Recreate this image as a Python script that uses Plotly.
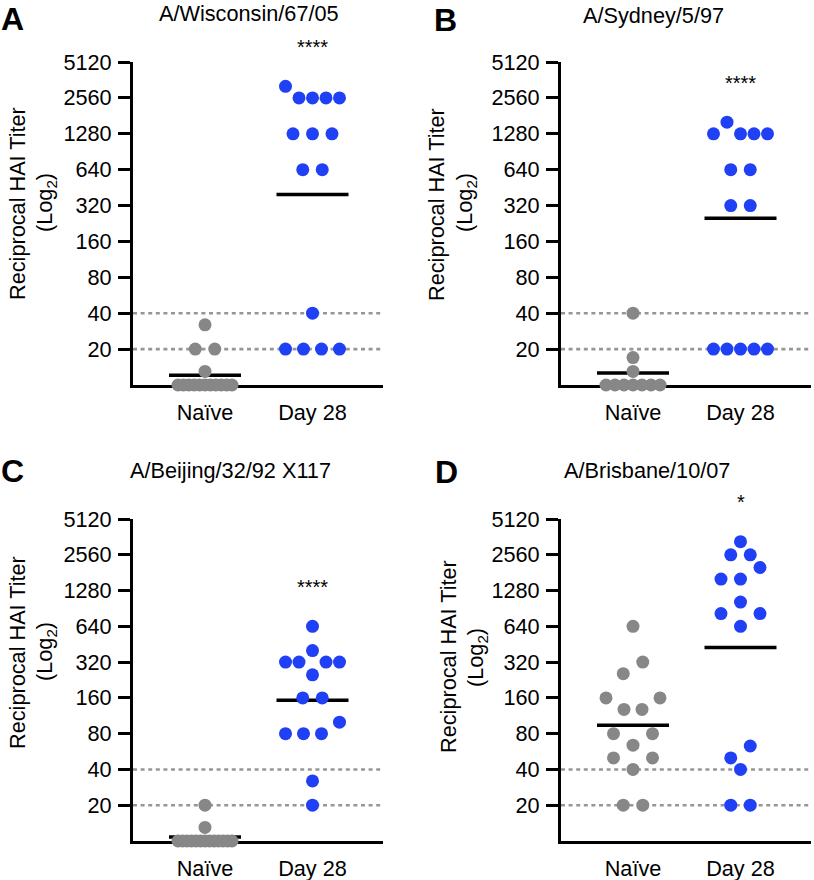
import numpy as np
import plotly.graph_objects as go

# ---------------- data ----------------
panel_letters = ["A", "B", "C", "D"]
strain_names = ["A/Wisconsin/67/05", "A/Sydney/5/97", "A/Beijing/32/92 X117", "A/Brisbane/10/07"]
group_labels = ["Naïve", "Day 28"]
significance_marks = ["****", "****", "****", "*"]
titer_ticks = [20, 40, 80, 160, 320, 640, 1280, 2560, 5120]
threshold_titers = [20, 40]
axis_floor = 10
axis_ceiling = 5120

naive_A = [32, 20, 20, 13, 10, 10, 10, 10, 10, 10, 10, 10, 10, 10, 10]
day28_A = [3200, 2560, 2560, 2560, 2560, 1280, 1280, 1280, 640, 640, 40, 20, 20, 20, 20]

naive_B = [40, 17, 13, 10, 10, 10, 10, 10, 10, 10]
day28_B = [1280, 1600, 1280, 1280, 1280, 640, 640, 320, 320, 20, 20, 20, 20, 20]

naive_C = [20, 13, 10, 10, 10, 10, 10, 10, 10, 10, 10, 10, 10, 10, 10]
day28_C = [640, 320, 320, 400, 320, 320, 250, 160, 160, 80, 80, 80, 100, 32, 20]

naive_D = [640, 256, 320, 160, 128, 128, 160, 80, 64, 80, 50, 40, 50, 20, 20]
day28_D = [3300, 2560, 2560, 1600, 1600, 2000, 820, 1024, 820, 640, 50, 63, 40, 20, 20]

gmt_naive = [12.1, 12.6, 10.8, 94]
gmt_day28 = [396, 250, 153, 425]

naive_sets = [naive_A, naive_B, naive_C, naive_D]
day28_sets = [day28_A, day28_B, day28_C, day28_D]

# ---------------- styling / layout ----------------
W, H = 814, 880
FONT = "Liberation Sans, Arial, Helvetica, sans-serif"
FS = 21.7
BLUE = "rgb(32,64,245)"
GRAY = "rgb(135,135,135)"
DOT_GRAY = "rgb(150,150,150)"
COLORS = [GRAY, BLUE]

PX_PER_CAT = 107.5
X_LO = -72 / PX_PER_CAT
X_HI = X_LO + 250 / PX_PER_CAT
HALF_MEAN = 36 / PX_PER_CAT
Y_LO, Y_HI = np.log10(axis_floor), np.log10(axis_ceiling)

# plot areas in pixels: (left, top, right, bottom)
panel_px = [(133, 62, 383, 385), (561, 62, 811, 385),
            (133, 519, 383, 841), (561, 519, 811, 841)]


def swarm_offsets(vals, thr=0.345, step_px=19.5, max_span_px=54):
    """Simple row-based dot spreading (like a scatter dot plot)."""
    lv = np.log2(np.asarray(vals, float))
    order = sorted(range(len(vals)), key=lambda i: -lv[i])
    rows = []
    for i in order:
        if rows and lv[rows[-1][0]] - lv[i] <= thr:
            rows[-1].append(i)
        else:
            rows.append([i])
    off = np.zeros(len(vals))
    for row in rows:
        row = sorted(row)
        n = len(row)
        if n > 1:
            step = min(step_px, max_span_px / (n - 1))
            for k, i in enumerate(row):
                off[i] = (k - (n - 1) / 2) * step / PX_PER_CAT
    return off


fig = go.Figure()
layout = {}
annotations = []

for p in range(4):
    sfx = "" if p == 0 else str(p + 1)
    xa, ya = "x" + sfx, "y" + sfx
    l, t, r, b = panel_px[p]

    # threshold dotted lines
    for thr in threshold_titers:
        fig.add_trace(go.Scatter(x=[X_LO, X_HI], y=[thr, thr], mode="lines",
                                 line=dict(color=DOT_GRAY, width=2.6, dash="4px,3.6px"),
                                 xaxis=xa, yaxis=ya, hoverinfo="skip", showlegend=False))
    # geometric mean lines
    for g, m in enumerate([gmt_naive[p], gmt_day28[p]]):
        fig.add_trace(go.Scatter(x=[g - HALF_MEAN, g + HALF_MEAN], y=[m, m], mode="lines",
                                 line=dict(color="black", width=3.5),
                                 xaxis=xa, yaxis=ya, hoverinfo="skip", showlegend=False))
    # points
    for g, vals in enumerate([naive_sets[p], day28_sets[p]]):
        off = swarm_offsets(vals)
        fig.add_trace(go.Scatter(x=g + off, y=vals, mode="markers",
                                 marker=dict(size=13, color=COLORS[g], line=dict(width=0)),
                                 cliponaxis=False, xaxis=xa, yaxis=ya,
                                 name=group_labels[g], showlegend=False))
    # significance marks, placed ~1.1 doublings above the highest Day 28 titer
    sig_y = (np.log10(max(day28_sets[p]) * 2 ** 1.1) - Y_LO) / (Y_HI - Y_LO)
    annotations.append(dict(text=significance_marks[p], x=1, y=float(sig_y),
                            xref=xa, yref=ya + " domain", xanchor="center", yanchor="middle",
                            showarrow=False, font=dict(family=FONT, size=20, color="black")))

    layout["xaxis" + sfx] = dict(
        domain=[l / W, r / W], range=[X_LO, X_HI], anchor=ya, automargin=False,
        tickvals=[0, 1], ticktext=group_labels, ticks="", ticklabelstandoff=6,
        showline=True, linecolor="black", linewidth=3, showgrid=False, zeroline=False,
        tickfont=dict(family=FONT, size=FS, color="black"), layer="below traces",
        fixedrange=True)
    layout["yaxis" + sfx] = dict(
        domain=[1 - b / H, 1 - t / H], type="log", automargin=False,
        range=[Y_LO, Y_HI + 1e-9], anchor=xa,
        tickvals=titer_ticks, ticktext=[str(v) for v in titer_ticks],
        ticks="outside", ticklen=12, tickwidth=3, tickcolor="black", ticklabelstandoff=2,
        showline=True, linecolor="black", linewidth=3, showgrid=False, zeroline=False,
        tickfont=dict(family=FONT, size=FS, color="black"), layer="below traces",
        fixedrange=True)

# text placements (pixel centres)
title_pos = [(249, 14), (653, 15), (230, 470), (647, 470)]
letter_pos = [(12, 19), (445, 20), (12, 471), (446, 472)]
ytitle1_pos = [(17, 204), (437, 205), (17, 653), (448, 657)]
ytitle2_pos = [(46, 203), (466, 203), (46, 652), (477, 658)]

for p in range(4):
    tx, ty = title_pos[p]
    annotations.append(dict(text=strain_names[p], x=tx / W, y=1 - ty / H, xref="paper", yref="paper",
                            xanchor="center", yanchor="middle", showarrow=False,
                            font=dict(family=FONT, size=FS, color="black")))
    lx, ly = letter_pos[p]
    annotations.append(dict(text="<b>" + panel_letters[p] + "</b>", x=lx / W, y=1 - ly / H,
                            xref="paper", yref="paper", xanchor="center", yanchor="middle",
                            showarrow=False, font=dict(family=FONT, size=32, color="black")))
    ax1, ay1 = ytitle1_pos[p]
    annotations.append(dict(text="Reciprocal HAI Titer", x=ax1 / W, y=1 - ay1 / H,
                            xref="paper", yref="paper", xanchor="center", yanchor="middle",
                            textangle=-90, showarrow=False,
                            font=dict(family=FONT, size=FS, color="black")))
    ax2, ay2 = ytitle2_pos[p]
    annotations.append(dict(text="(Log<sub>2</sub>)", x=ax2 / W, y=1 - ay2 / H,
                            xref="paper", yref="paper", xanchor="center", yanchor="middle",
                            textangle=-90, showarrow=False,
                            font=dict(family=FONT, size=FS, color="black")))

fig.update_layout(
    width=W, height=H, margin=dict(l=0, r=0, t=0, b=0, pad=0, autoexpand=False),
    paper_bgcolor="white", plot_bgcolor="white",
    showlegend=False, annotations=annotations, **layout)

fig.write_html("out.html", config={"displayModeBar": False},
               post_script="document.body.style.margin='0px';document.body.style.overflow='hidden';")
